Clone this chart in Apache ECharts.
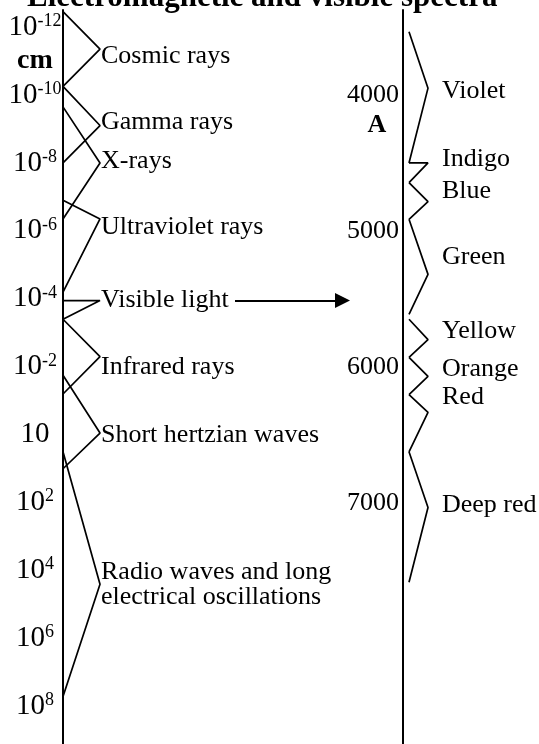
<!DOCTYPE html>
<html>
<head>
<meta charset="utf-8">
<title>Electromagnetic and visible spectra</title>
<script src="https://cdn.jsdelivr.net/npm/echarts@6/dist/echarts.min.js"></script>
<style>
  html, body { margin: 0; padding: 0; background: #fff; }
  #chart { width: 539px; height: 744px; }
</style>
</head>
<body>
<div id="chart"></div>
<script>
// left scale: wavelength as log10(cm)
const waveTicks = [-12, -10, -8, -6, -4, -2, 0, 2, 4, 6, 8]
const waveTickLabels = ['10^-12', '10^-10', '10^-8', '10^-6', '10^-4', '10^-2', '10', '10^2', '10^4', '10^6', '10^8']
const waveUnitAt = -11
const waveUnit = 'cm'

const waveNames = ['Cosmic rays', 'Gamma rays', 'X-rays', 'Ultraviolet rays', 'Visible light',
  'Infrared rays', 'Short hertzian waves', 'Radio waves and long\nelectrical oscillations']
const waveFrom = [-12.45, -10.25, -9.65, -6.9, -3.95, -3.4, -1.75, 0.5]
const wavePeak = [-11.35, -9.1, -8.0, -6.35, -3.95, -2.3, -0.05, 4.4]
const waveTo = [-10.25, -8.0, -6.35, -4.2, -3.4, -1.2, 1.0, 7.7]
const waveLabelAt = [-11.15, -9.2, -8.05, -6.1, -3.95, -2.0, 0, 4.4]

// right scale: visible spectrum in angstrom
const lightTicks = [4000, 5000, 6000, 7000]
const lightUnitAt = 4220
const lightUnit = 'A'

const colourNames = ['Violet', 'Indigo', 'Blue', 'Green', 'Yellow', 'Orange', 'Red', 'Deep red']
const colourFrom = [3535, 4500, 4645, 4915, 5650, 5930, 6205, 6625]
const colourPeak = [3950, 4500, 4785, 5320, 5800, 6070, 6335, 7035]
const colourTo = [4500, 4645, 4915, 5615, 5930, 6205, 6625, 7585]
const colourLabelAt = [3975, 4475, 4710, 5195, 5740, 6020, 6225, 7015]

const FONT = 'Liberation Serif'
const LEFT_DEPTH = 37
const LEFT_TEXT_X = 38
const RIGHT_INNER = 6
const RIGHT_OUTER = 25
const RIGHT_TEXT_X = 39
const ARROW_FROM = 172
const ARROW_TO = 287
const ARROW_HEAD = 15

const sameValue = (a, b) => Math.abs(a - b) < 1e-6

const bracketSeries = (from, peak, to, inner, outer, gridIndex) =>
  from.map((f, i) => ({
    type: 'line',
    xAxisIndex: gridIndex,
    yAxisIndex: gridIndex,
    data: [[inner, f], [outer, peak[i]], [inner, to[i]]],
    symbol: 'none',
    silent: true,
    clip: false,
    lineStyle: { color: '#000', width: 1.7 }
  }))

const labelSeries = (names, at, x, gridIndex) => ({
  type: 'scatter',
  xAxisIndex: gridIndex,
  yAxisIndex: gridIndex,
  symbolSize: 0,
  silent: true,
  clip: false,
  itemStyle: { opacity: 1 },
  data: names.map((n, i) => ({ name: n, value: [x, at[i]] })),
  label: {
    show: true,
    position: 'right',
    distance: 0,
    formatter: '{b}',
    fontFamily: FONT,
    fontSize: 26,
    lineHeight: 25,
    color: '#000'
  }
})

const visibleIndex = waveNames.indexOf('Visible light')

const getOption = () => ({
  animation: false,
  backgroundColor: '#fff',
  title: {
    text: 'Electromagnetic and visible spectra',
    left: 27,
    top: -18,
    padding: 0,
    textStyle: { fontFamily: FONT, fontSize: 31, fontWeight: 'bold', color: '#000' }
  },
  grid: [
    { left: 63, top: 10, width: 340, bottom: 0 },
    { left: 403, top: 10, right: 0, bottom: 0 }
  ],
  xAxis: [
    { gridIndex: 0, type: 'value', min: 0, max: 340, show: false },
    { gridIndex: 1, type: 'value', min: 0, max: 136, show: false }
  ],
  yAxis: [
    {
      gridIndex: 0,
      type: 'value',
      position: 'left',
      inverse: true,
      min: -12.5,
      max: 9.1,
      axisLine: { show: true, lineStyle: { color: '#000', width: 2 } },
      axisTick: { show: false },
      splitLine: { show: false },
      axisLabel: {
        customValues: waveTicks.concat([waveUnitAt]),
        align: 'center',
        margin: 28,
        color: '#000',
        formatter: (v) => {
          if (sameValue(v, waveUnitAt)) return '{u|' + waveUnit + '}'
          const i = waveTicks.findIndex((t) => sameValue(t, v))
          const parts = waveTickLabels[i].split('^')
          return parts.length > 1 ? '{b|' + parts[0] + '}{s|' + parts[1] + '}' : '{b|' + parts[0] + '}'
        },
        rich: {
          b: { fontFamily: FONT, fontSize: 29, lineHeight: 30, color: '#000' },
          s: { fontFamily: FONT, fontSize: 18, lineHeight: 18, verticalAlign: 'top', color: '#000' },
          u: { fontFamily: FONT, fontSize: 28, fontWeight: 'bold', color: '#000' }
        }
      }
    },
    {
      gridIndex: 1,
      type: 'value',
      position: 'left',
      inverse: true,
      min: 3375,
      max: 8775,
      axisLine: { show: true, lineStyle: { color: '#000', width: 2 } },
      axisTick: { show: false },
      splitLine: { show: false },
      axisLabel: {
        customValues: lightTicks.concat([lightUnitAt]),
        align: 'center',
        margin: 30,
        color: '#000',
        fontFamily: FONT,
        fontSize: 26,
        formatter: (v) => sameValue(v, lightUnitAt) ? '{u|' + lightUnit + '}' : String(v),
        rich: {
          u: { fontFamily: FONT, fontSize: 26, fontWeight: 'bold', color: '#000', padding: [0, 0, 0, 8] }
        }
      }
    }
  ],
  series: [
    ...bracketSeries(waveFrom, wavePeak, waveTo, 0, LEFT_DEPTH, 0),
    ...bracketSeries(colourFrom, colourPeak, colourTo, RIGHT_INNER, RIGHT_OUTER, 1),
    labelSeries(waveNames, waveLabelAt, LEFT_TEXT_X, 0),
    labelSeries(colourNames, colourLabelAt, RIGHT_TEXT_X, 1),
    {
      // arrow from "Visible light" over to the visible spectrum
      type: 'line',
      xAxisIndex: 0,
      yAxisIndex: 0,
      data: [],
      markLine: {
        silent: true,
        symbol: ['none', 'triangle'],
        symbolSize: [ARROW_HEAD, ARROW_HEAD],
        label: { show: false },
        lineStyle: { color: '#000', width: 2, type: 'solid' },
        data: [[
          { coord: [ARROW_FROM, wavePeak[visibleIndex]] },
          { coord: [ARROW_TO - ARROW_HEAD / 2, wavePeak[visibleIndex]] }
        ]]
      }
    }
  ]
})

const chart = echarts.init(document.getElementById('chart'))
chart.setOption(getOption())
window.addEventListener('resize', () => chart.resize())
</script>
</body>
</html>
